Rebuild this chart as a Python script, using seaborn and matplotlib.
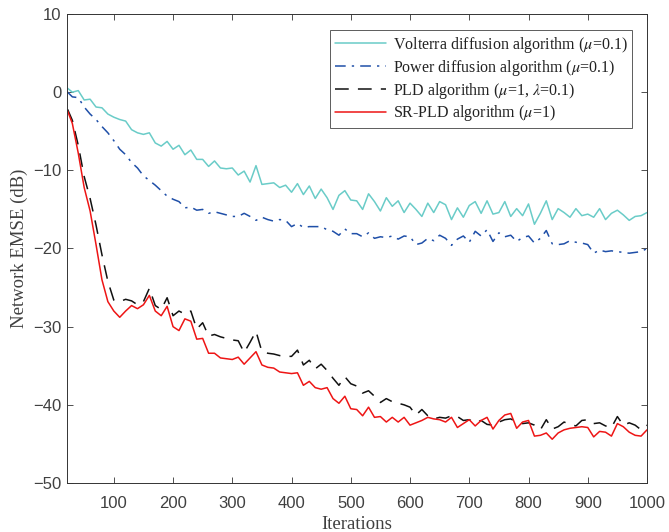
import numpy as np
import pandas as pd
import matplotlib
matplotlib.use("Agg")
import matplotlib.pyplot as plt
import seaborn as sns

# ---------------- data ----------------
iterations = [22] + list(range(30, 1001, 10))

volterra = [0.5, 0.0, 0.2, -1.0, -0.9, -1.9, -2.0, -2.8, -3.2, -3.5,
            -3.7, -4.8, -5.2, -5.4, -5.2, -6.5, -6.9, -6.3, -7.3, -6.8,
            -8.0, -7.4, -8.6, -8.6, -9.5, -8.8, -9.7, -9.8, -9.7, -10.6,
            -10.1, -11.5, -9.4, -11.8, -11.7, -11.6, -12.2, -11.9, -12.8, -11.7,
            -13.1, -12.0, -13.6, -12.4, -13.5, -15.0, -13.2, -12.6, -13.8, -13.9,
            -15.0, -13.0, -14.0, -15.2, -13.5, -14.6, -13.9, -15.4, -14.2, -15.0,
            -15.9, -14.2, -15.4, -14.0, -14.4, -16.3, -14.8, -16.0, -14.5, -14.0,
            -15.5, -13.9, -15.6, -15.4, -14.0, -15.9, -14.9, -15.8, -14.3, -16.9,
            -15.5, -13.9, -16.3, -14.9, -15.4, -16.0, -14.9, -15.8, -15.6, -16.0,
            -14.9, -16.3, -15.5, -15.1, -15.7, -16.4, -15.9, -15.8, -15.4]

power = [0.0, -0.6, -0.7, -1.9, -2.8, -3.5, -4.4, -5.2, -6.2, -7.3,
         -8.0, -9.0, -9.7, -10.7, -11.3, -11.9, -12.6, -13.3, -13.7, -14.0,
         -14.8, -14.7, -15.1, -15.0, -15.5, -15.3, -15.5, -15.7, -15.9, -15.9,
         -15.5, -15.9, -16.4, -16.0, -16.3, -16.5, -16.3, -16.4, -17.2, -16.8,
         -17.3, -17.2, -17.2, -17.2, -17.6, -17.8, -18.3, -17.5, -18.1, -18.1,
         -18.5, -18.0, -18.7, -18.5, -18.6, -18.4, -18.8, -18.4, -18.5, -19.5,
         -19.3, -18.7, -19.0, -18.3, -18.7, -19.6, -18.8, -18.4, -19.2, -17.8,
         -18.4, -17.6, -19.1, -18.0, -18.5, -18.3, -19.1, -18.6, -18.4, -19.3,
         -18.7, -17.7, -19.4, -19.5, -19.4, -19.0, -19.2, -19.3, -19.5, -20.6,
         -20.2, -20.4, -20.3, -20.4, -20.5, -20.6, -20.5, -20.4, -20.0]

pld = [-2.2, -3.6, -6.8, -10.8, -13.6, -17.0, -20.8, -24.2, -26.6, -26.8,
       -26.5, -26.7, -27.2, -26.8, -25.1, -27.3, -27.8, -26.3, -28.6, -28.0,
       -28.4, -28.0, -30.3, -29.5, -31.2, -31.0, -31.3, -31.5, -31.7, -31.8,
       -33.3, -32.0, -30.6, -33.2, -33.4, -33.5, -33.7, -33.8, -33.8, -33.0,
       -34.9, -34.3, -35.4, -34.8, -35.6, -36.6, -37.5, -36.4, -37.3, -37.6,
       -38.5, -38.2, -38.9, -39.7, -39.2, -39.6, -39.8, -40.0, -40.3, -41.3,
       -40.6, -41.4, -41.8, -41.6, -41.7, -41.4, -41.5, -42.0, -41.9, -42.3,
       -42.0, -42.5, -42.6, -42.2, -41.9, -41.8, -42.2, -42.4, -42.3, -42.6,
       -43.2, -41.9, -43.1, -42.8, -42.2, -42.5, -42.7, -42.0, -41.9, -42.4,
       -42.3, -42.7, -42.9, -41.5, -42.6, -42.3, -42.6, -43.2, -42.6]

srpld = [-2.4, -4.0, -7.8, -12.2, -15.2, -19.5, -24.0, -26.8, -28.0, -28.8,
         -28.0, -27.3, -27.7, -27.2, -26.0, -28.0, -28.6, -27.4, -30.0, -30.5,
         -29.0, -29.3, -31.6, -31.5, -33.4, -33.4, -34.0, -34.1, -34.2, -33.9,
         -34.8, -34.0, -33.2, -34.9, -35.2, -35.3, -35.8, -35.9, -36.0, -35.9,
         -37.5, -37.0, -37.8, -38.0, -37.8, -39.2, -39.8, -38.9, -40.5, -40.6,
         -41.4, -40.3, -41.6, -41.5, -42.2, -41.6, -42.2, -41.6, -42.6, -42.3,
         -42.0, -41.6, -41.8, -41.9, -42.2, -41.6, -42.9, -42.4, -41.9, -42.7,
         -42.0, -41.6, -43.1, -42.0, -41.3, -41.1, -43.0, -42.2, -42.0, -44.0,
         -43.9, -43.6, -44.4, -43.6, -43.2, -43.0, -42.9, -42.8, -42.9, -44.1,
         -43.4, -43.5, -44.0, -42.4, -42.8, -43.5, -43.9, -44.0, -43.2]

labels = [r"Volterra diffusion algorithm ($\mu$=0.1)",
          r"Power diffusion algorithm ($\mu$=0.1)",
          r"PLD algorithm ($\mu$=1, $\lambda$=0.1)",
          r"SR-PLD algorithm ($\mu$=1)"]
x_ticks = [100, 200, 300, 400, 500, 600, 700, 800, 900, 1000]
y_ticks = [-50, -40, -30, -20, -10, 0, 10]
x_label = "Iterations"
y_label = "Network EMSE (dB)"

# ---------------- style ----------------
sns.set_style("ticks")
plt.rcParams.update({
    "font.family": ["Liberation Sans", "DejaVu Sans"],
    "mathtext.fontset": "stix",
    "xtick.direction": "in",
    "ytick.direction": "in",
    "xtick.top": True,
    "ytick.right": True,
    "axes.edgecolor": "#333333",
    "xtick.color": "#333333",
    "ytick.color": "#333333",
    "axes.linewidth": 0.7,
})

fig = plt.figure(figsize=(6.69, 5.32), dpi=100)
ax = fig.add_axes([67 / 669, 1 - 483 / 532, (647 - 67) / 669, (483 - 14) / 532])

series = [volterra, power, pld, srpld]
colors = ["#6ACCC8", "#1F4FA8", "#111111", "#EE1515"]
styles = ["-", (0, (7, 4, 1.5, 4)), (0, (9, 6)), "-"]

for vals, lab, col, ls in zip(series, labels, colors, styles):
    df = pd.DataFrame({"it": iterations, "v": vals})
    sns.lineplot(data=df, x="it", y="v", ax=ax, color=col, linewidth=1.1,
                 label=lab, linestyle=ls)

ax.set_xlim(21, 1000)
ax.set_ylim(-50, 10)
ax.set_xticks(x_ticks)
ax.set_yticks(y_ticks)
ax.tick_params(labelsize=12, length=4, width=0.6, labelcolor="#404040")
ax.tick_params(axis="x", pad=9)
ax.tick_params(axis="y", pad=4)
for s in ax.spines.values():
    s.set_visible(True)

serif = {"family": ["Liberation Serif", "DejaVu Serif"], "size": 13.5, "color": "#404040"}
ax.set_xlabel(x_label, fontdict=serif, labelpad=4)
ax.set_ylabel(y_label, fontdict=serif, labelpad=4)

leg = ax.legend(loc="upper right", bbox_to_anchor=(632 / 669, 1 - 30 / 532),
                bbox_transform=fig.transFigure, borderaxespad=0,
                prop={"family": ["Liberation Serif", "DejaVu Serif"], "size": 11.5},
                handlelength=3.2, handletextpad=0.4, labelspacing=0.18,
                borderpad=0.3, frameon=True, fancybox=False, edgecolor="#333333")
leg.get_frame().set_linewidth(0.7)
for t in leg.get_texts():
    t.set_color("#222222")

fig.savefig("out.png", dpi=100)
